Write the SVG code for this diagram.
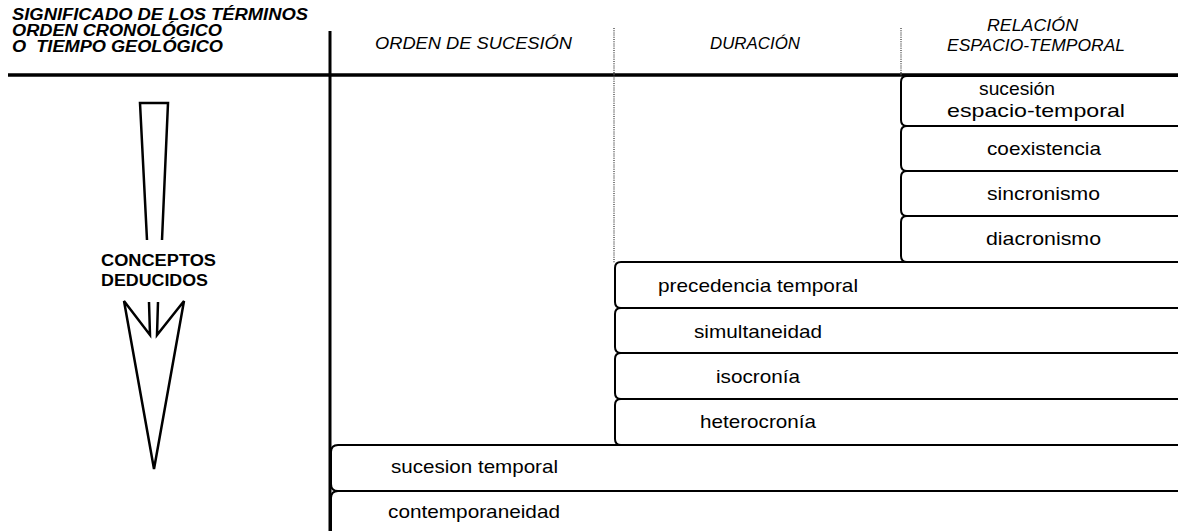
<svg xmlns="http://www.w3.org/2000/svg" width="1178" height="531" viewBox="0 0 1178 531">
<style>
.hd{font-family:"Liberation Sans",Arial,sans-serif;font-style:italic;font-size:17px;fill:#000}
.hb{font-weight:bold;font-size:16px}
.t{font-family:"Liberation Sans",Arial,sans-serif;font-size:19px;fill:#000}
.cb{font-family:"Liberation Sans",Arial,sans-serif;font-size:16px;font-weight:bold;fill:#000}
.box{fill:none;stroke:#000;stroke-width:2}
.dot{stroke:#555;stroke-width:1.5;stroke-dasharray:1 1.2;fill:none}
.arr{fill:none;stroke:#000;stroke-width:2.5;stroke-linejoin:miter}
</style>
<rect width="1178" height="531" fill="#fff"/>
<g id="headers">
<text class="hd hb" x="12" y="20" textLength="296" lengthAdjust="spacingAndGlyphs">SIGNIFICADO DE LOS TÉRMINOS</text>
<text class="hd hb" x="12" y="36" textLength="210" lengthAdjust="spacingAndGlyphs">ORDEN CRONOLÓGICO</text>
<text class="hd hb" x="12" y="52" textLength="211" lengthAdjust="spacingAndGlyphs" xml:space="preserve">O  TIEMPO GEOLÓGICO</text>
<text class="hd" x="375" y="49" textLength="197" lengthAdjust="spacingAndGlyphs">ORDEN DE SUCESIÓN</text>
<text class="hd" x="710" y="49" textLength="90" lengthAdjust="spacingAndGlyphs">DURACIÓN</text>
<text class="hd" x="987" y="31" textLength="91" lengthAdjust="spacingAndGlyphs">RELACIÓN</text>
<text class="hd" x="947" y="51" textLength="178" lengthAdjust="spacingAndGlyphs">ESPACIO-TEMPORAL</text>
</g>
<g id="grid">
<line x1="8" y1="75" x2="1178" y2="75" stroke="#000" stroke-width="3.5"/>
<line x1="330" y1="31" x2="330" y2="531" stroke="#000" stroke-width="3"/>
<line class="dot" x1="614" y1="28" x2="614" y2="263"/>
<line class="dot" x1="901" y1="28" x2="901" y2="77"/>
</g>
<g id="arrow">
<polyline class="arr" points="147,240 140,103 168,103 162,240"/>
<polyline class="arr" points="149,302 150,335 124,301 154,469 184,301 157,335 158,302"/>
<text class="cb" x="101" y="266" textLength="115" lengthAdjust="spacingAndGlyphs">CONCEPTOS</text>
<text class="cb" x="101" y="286" textLength="107" lengthAdjust="spacingAndGlyphs">DEDUCIDOS</text>
</g>
<g id="n-sucesion-et"><path class="box" d="M1180,76 H907 Q901,76 901,82 V120 Q901,126 907,126 H1180"/>
<text class="t" x="979" y="95" textLength="76" lengthAdjust="spacingAndGlyphs">sucesión</text>
<text class="t" x="947" y="117" textLength="178" lengthAdjust="spacingAndGlyphs">espacio-temporal</text></g>
<g id="n-coexistencia"><path class="box" d="M1180,126 H907 Q901,126 901,132 V165 Q901,171 907,171 H1180"/>
<text class="t" x="987" y="155" textLength="114" lengthAdjust="spacingAndGlyphs">coexistencia</text></g>
<g id="n-sincronismo"><path class="box" d="M1180,171 H907 Q901,171 901,177 V210 Q901,216 907,216 H1180"/>
<text class="t" x="987" y="200" textLength="113" lengthAdjust="spacingAndGlyphs">sincronismo</text></g>
<g id="n-diacronismo"><path class="box" d="M1180,216 H907 Q901,216 901,222 V256 Q901,262 907,262 H1180"/>
<text class="t" x="986" y="245" textLength="115" lengthAdjust="spacingAndGlyphs">diacronismo</text></g>
<g id="n-precedencia"><path class="box" d="M1180,262 H621 Q615,262 615,268 V302 Q615,308 621,308 H1180"/>
<text class="t" x="658" y="292" textLength="200" lengthAdjust="spacingAndGlyphs">precedencia temporal</text></g>
<g id="n-simultaneidad"><path class="box" d="M1180,308 H621 Q615,308 615,314 V347 Q615,353 621,353 H1180"/>
<text class="t" x="694" y="338" textLength="128" lengthAdjust="spacingAndGlyphs">simultaneidad</text></g>
<g id="n-isocronia"><path class="box" d="M1180,353 H621 Q615,353 615,359 V393 Q615,399 621,399 H1180"/>
<text class="t" x="716" y="383" textLength="84" lengthAdjust="spacingAndGlyphs">isocronía</text></g>
<g id="n-heterocronia"><path class="box" d="M1180,399 H621 Q615,399 615,405 V439 Q615,445 621,445 H1180"/>
<text class="t" x="700" y="428" textLength="116" lengthAdjust="spacingAndGlyphs">heterocronía</text></g>
<g id="n-sucesion-temporal"><path class="box" d="M1180,445 H338 Q331,445 331,452 V484 Q331,491 338,491 H1180"/>
<text class="t" x="391" y="473" textLength="167" lengthAdjust="spacingAndGlyphs">sucesion temporal</text></g>
<g id="n-contemporaneidad"><path class="box" d="M1180,491 H338 Q331,491 331,498 V540"/>
<text class="t" x="388" y="518" textLength="172" lengthAdjust="spacingAndGlyphs">contemporaneidad</text></g>
</svg>
